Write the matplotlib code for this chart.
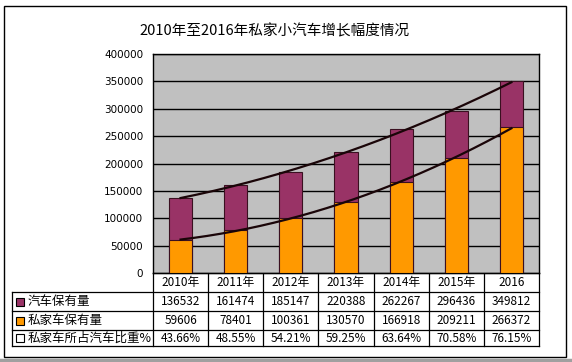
import numpy as np
import matplotlib
matplotlib.use('Agg')
import matplotlib.pyplot as plt
from matplotlib.patches import Rectangle

plt.rcParams['font.family'] = ['Noto Sans CJK SC', 'DejaVu Sans']

# data
years = ['2010年', '2011年', '2012年', '2013年', '2014年', '2015年', '2016']
cars = [136532, 161474, 185147, 220388, 262267, 296436, 349812]
private = [59606, 78401, 100361, 130570, 166918, 209211, 266372]
share = ['43.66%', '48.55%', '54.21%', '59.25%', '63.64%', '70.58%', '76.15%']
row_names = ['汽车保有量', '私家车保有量', '私家车所占汽车比重%']
title = '2010年至2016年私家小汽车增长幅度情况'

PURPLE = '#993366'
ORANGE = '#FF9900'
W, H = 572, 362
PL, PR, PT, PB = 153, 539, 54, 273   # plot area in pixels

fig = plt.figure(figsize=(W / 100, H / 100), dpi=100)
fig.patch.set_facecolor('white')

# background layer in pixel coords
bg = fig.add_axes([0, 0, 1, 1])
bg.set_xlim(0, W)
bg.set_ylim(H, 0)
bg.axis('off')
bg.add_patch(Rectangle((4, 6), 562, 351, fill=False, edgecolor='black', lw=1))
bg.plot([0, W], [360, 360], color='#a0a0a0', lw=2.5)
bg.text(274, 31, title, ha='center', va='center', fontsize=10.5)

ax = fig.add_axes([PL / W, (H - PB) / H, (PR - PL) / W, (PB - PT) / H])
x = np.arange(len(years))
ax.set_facecolor('#C0C0C0')
ax.bar(x, cars, width=0.42, color=PURPLE, edgecolor='#3a1020', lw=0.8, zorder=2)
ax.bar(x, private, width=0.42, color=ORANGE, edgecolor='#3a1020', lw=0.8, zorder=3)

# polynomial trendlines
xs = np.linspace(0, len(years) - 1, 200)
for s in (cars, private):
    p = np.polyfit(x, s, 2)
    ax.plot(xs, np.polyval(p, xs), color='#1a0508', lw=1.6, zorder=4)

ax.set_xlim(-0.5, len(years) - 0.5)
ax.set_ylim(0, 400000)
ax.set_yticks(np.arange(0, 400001, 50000))
ax.yaxis.grid(True, color='black', lw=1)
ax.set_axisbelow(True)
ax.set_xticks([])
ax.tick_params(axis='y', length=0, pad=7, labelsize=7.5, labelfontfamily='DejaVu Sans')
for sp in ax.spines.values():
    sp.set_color('black')
    sp.set_linewidth(1)

# data table below the plot
edges = np.linspace(PL, PR, len(years) + 1)
rows = [273, 292, 311, 330, 346]
lc = dict(color='black', lw=0.9)
bg.plot([PL, PR], [rows[0], rows[0]], **lc)
for y in rows[1:]:
    bg.plot([12, PR], [y, y], **lc)
for e in edges:
    bg.plot([e, e], [rows[0], rows[-1]], **lc)
bg.plot([12, 12], [rows[1], rows[-1]], **lc)

for i, yr in enumerate(years):
    cx = (edges[i] + edges[i + 1]) / 2
    bg.text(cx, (rows[0] + rows[1]) / 2, yr, ha='center', va='center', fontsize=8.5)
    vals = [str(cars[i]), str(private[i]), share[i]]
    for r, v in enumerate(vals):
        bg.text(cx, (rows[r + 1] + rows[r + 2]) / 2, v, ha='center', va='center', fontsize=8.5)

keys = [PURPLE, ORANGE, 'white']
for r, (name, kc) in enumerate(zip(row_names, keys)):
    cy = (rows[r + 1] + rows[r + 2]) / 2
    bg.add_patch(Rectangle((16, cy - 4), 8, 8, facecolor=kc, edgecolor='black', lw=0.8))
    bg.text(28, cy, name, ha='left', va='center', fontsize=9)

fig.savefig('out.png', dpi=100)
